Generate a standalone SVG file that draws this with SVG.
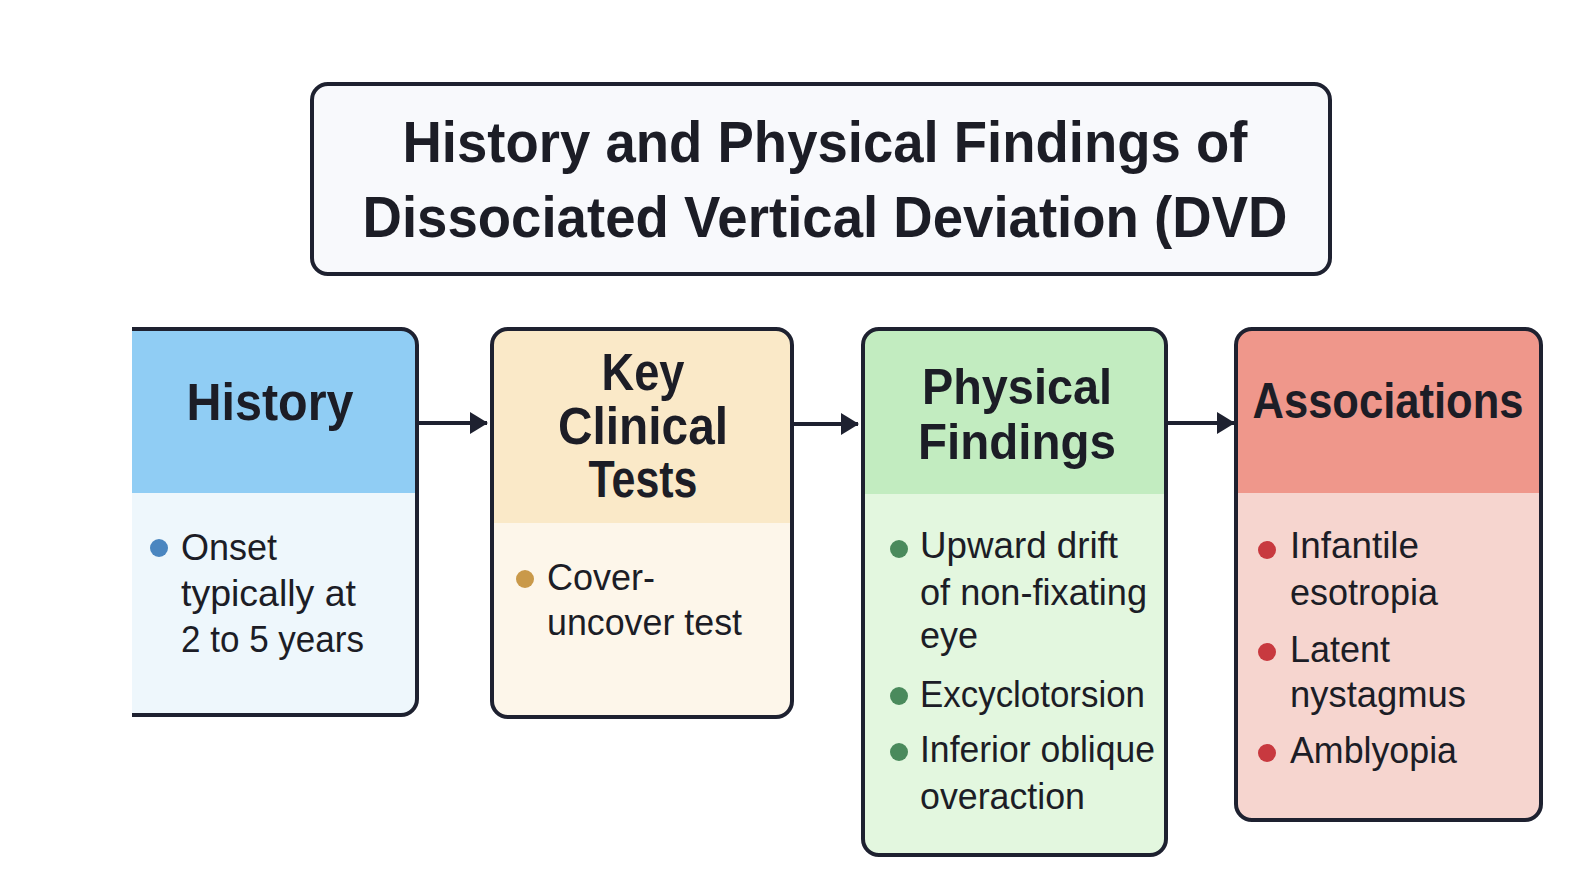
<svg xmlns="http://www.w3.org/2000/svg" width="1596" height="876" viewBox="0 0 1596 876">
<defs>
<style>
.border{fill:none;stroke:#1e2130;stroke-width:4}
.head{font-family:"Liberation Sans",Arial,sans-serif;font-weight:bold;fill:#1c1d26;text-anchor:middle}
.body{font-family:"Liberation Sans",Arial,sans-serif;font-size:36px;fill:#1c1d26}
.conn{stroke:#1e2130;stroke-width:4;fill:none}
</style>
<marker id="arr" viewBox="0 0 18 22" refX="17" refY="11" markerWidth="18" markerHeight="22" markerUnits="userSpaceOnUse" orient="auto">
<path d="M0,0 L18,11 L0,22 z" fill="#1e2130"/>
</marker>
<clipPath id="clipH"><rect x="132" y="0" width="400" height="876"/></clipPath>
</defs>
<rect width="1596" height="876" fill="#ffffff"/>

<g id="title">
<rect x="312" y="84" width="1018" height="190" rx="16" fill="#f8f9fc" stroke="#1e2130" stroke-width="4"/>
<text class="head" x="825" y="162" font-size="58" textLength="845" lengthAdjust="spacingAndGlyphs">History and Physical Findings of</text>
<text class="head" x="825" y="237" font-size="58" textLength="925" lengthAdjust="spacingAndGlyphs">Dissociated Vertical Deviation (DVD</text>
</g>

<g id="connectors">
<line class="conn" x1="417" y1="423" x2="487" y2="423" marker-end="url(#arr)"/>
<line class="conn" x1="792" y1="424" x2="858" y2="424" marker-end="url(#arr)"/>
<line class="conn" x1="1166" y1="423" x2="1234" y2="423" marker-end="url(#arr)"/>
</g>

<g id="node-history" clip-path="url(#clipH)">
<rect x="100" y="329" width="317" height="386" rx="16" fill="#eef7fc"/>
<path d="M100,493 V345 a16,16 0 0 1 16,-16 H401 a16,16 0 0 1 16,16 V493 z" fill="#90cdf4"/>
<rect class="border" x="100" y="329" width="317" height="386" rx="16"/>
<text class="head" x="270" y="420" font-size="51" textLength="167" lengthAdjust="spacingAndGlyphs">History</text>
<circle cx="159" cy="548" r="9" fill="#4a86c0"/>
<text class="body" x="181" y="560">Onset</text>
<text class="body" x="181" y="606" textLength="175" lengthAdjust="spacingAndGlyphs">typically at</text>
<text class="body" x="181" y="652" textLength="183" lengthAdjust="spacingAndGlyphs">2 to 5 years</text>
</g>

<g id="node-tests">
<rect x="492" y="329" width="300" height="388" rx="16" fill="#fdf6ea"/>
<path d="M492,523 V345 a16,16 0 0 1 16,-16 H776 a16,16 0 0 1 16,16 V523 z" fill="#fae9c8"/>
<rect class="border" x="492" y="329" width="300" height="388" rx="16"/>
<text class="head" x="643" y="390" font-size="51" textLength="83" lengthAdjust="spacingAndGlyphs">Key</text>
<text class="head" x="643" y="444" font-size="51" textLength="170" lengthAdjust="spacingAndGlyphs">Clinical</text>
<text class="head" x="643" y="497" font-size="51" textLength="109" lengthAdjust="spacingAndGlyphs">Tests</text>
<circle cx="525" cy="579" r="9" fill="#c9994a"/>
<text class="body" x="547" y="590">Cover-</text>
<text class="body" x="547" y="635" textLength="195" lengthAdjust="spacingAndGlyphs">uncover test</text>
</g>

<g id="node-physical">
<rect x="863" y="329" width="303" height="526" rx="16" fill="#e3f7df"/>
<path d="M863,494 V345 a16,16 0 0 1 16,-16 H1150 a16,16 0 0 1 16,16 V494 z" fill="#c2ecc0"/>
<rect class="border" x="863" y="329" width="303" height="526" rx="16"/>
<text class="head" x="1017" y="404" font-size="50" textLength="190" lengthAdjust="spacingAndGlyphs">Physical</text>
<text class="head" x="1017" y="459" font-size="50" textLength="198" lengthAdjust="spacingAndGlyphs">Findings</text>
<circle cx="899" cy="549" r="9" fill="#4a8a5c"/>
<text class="body" x="920" y="558" textLength="198" lengthAdjust="spacingAndGlyphs">Upward drift</text>
<text class="body" x="920" y="605" textLength="227" lengthAdjust="spacingAndGlyphs">of non-fixating</text>
<text class="body" x="920" y="648">eye</text>
<circle cx="899" cy="696" r="9" fill="#4a8a5c"/>
<text class="body" x="920" y="707" textLength="225" lengthAdjust="spacingAndGlyphs">Excyclotorsion</text>
<circle cx="899" cy="752" r="9" fill="#4a8a5c"/>
<text class="body" x="920" y="762" textLength="235" lengthAdjust="spacingAndGlyphs">Inferior oblique</text>
<text class="body" x="920" y="809" textLength="165" lengthAdjust="spacingAndGlyphs">overaction</text>
</g>

<g id="node-associations">
<rect x="1236" y="329" width="305" height="491" rx="16" fill="#f6d5cf"/>
<path d="M1236,493 V345 a16,16 0 0 1 16,-16 H1525 a16,16 0 0 1 16,16 V493 z" fill="#ef978b"/>
<rect class="border" x="1236" y="329" width="305" height="491" rx="16"/>
<text class="head" x="1388" y="418" font-size="50" textLength="271" lengthAdjust="spacingAndGlyphs">Associations</text>
<circle cx="1267" cy="550" r="9" fill="#c8393f"/>
<text class="body" x="1290" y="558" textLength="129" lengthAdjust="spacingAndGlyphs">Infantile</text>
<text class="body" x="1290" y="605" textLength="148" lengthAdjust="spacingAndGlyphs">esotropia</text>
<circle cx="1267" cy="652" r="9" fill="#c8393f"/>
<text class="body" x="1290" y="662" textLength="100" lengthAdjust="spacingAndGlyphs">Latent</text>
<text class="body" x="1290" y="707" textLength="176" lengthAdjust="spacingAndGlyphs">nystagmus</text>
<circle cx="1267" cy="753" r="9" fill="#c8393f"/>
<text class="body" x="1290" y="763" textLength="167" lengthAdjust="spacingAndGlyphs">Amblyopia</text>
</g>
</svg>
